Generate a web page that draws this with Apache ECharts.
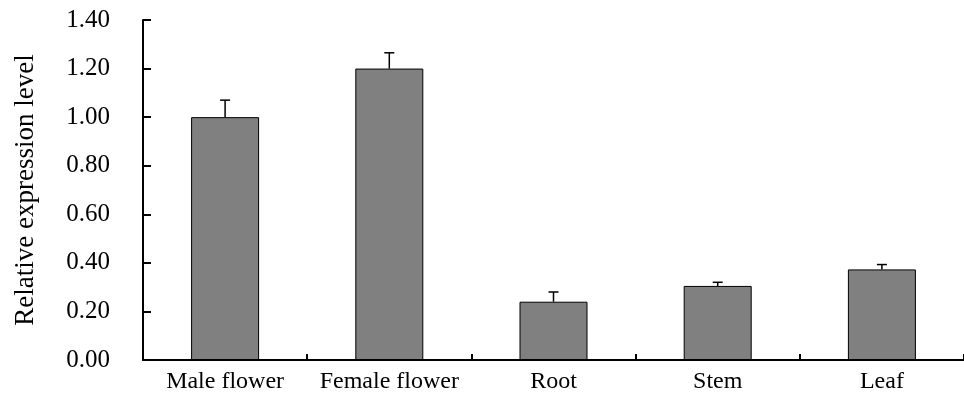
<!DOCTYPE html>
<html><head><meta charset="utf-8">
<script src="https://cdn.jsdelivr.net/npm/echarts@6/dist/echarts.min.js"></script>
<style>html,body{margin:0;padding:0;background:#fff}#c{width:964px;height:399px}</style>
</head><body><div id="c"></div>
<script>
var categories = ['Male flower', 'Female flower', 'Root', 'Stem', 'Leaf'];
var values = [1.00, 1.20, 0.24, 0.305, 0.373];
var errors = [0.07, 0.065, 0.04, 0.015, 0.02];
var yTicks = [0, 0.2, 0.4, 0.6, 0.8, 1.0, 1.2, 1.4];

var chart = echarts.init(document.getElementById('c'));
var font = 'Liberation Serif';
chart.setOption({
  animation: false,
  grid: { left: 143, top: 20, width: 825, bottom: 39 },
  xAxis: {
    type: 'category', data: categories,
    axisLine: { lineStyle: { color: '#000', width: 2 } },
    axisTick: { show: true, inside: true, length: 6, lineStyle: { color: '#000', width: 2 } },
    axisLabel: { color: '#000', fontFamily: font, fontSize: 24, margin: 10, interval: 0, hideOverlap: false }
  },
  yAxis: {
    type: 'value', min: yTicks[0], max: yTicks[yTicks.length - 1], interval: 0.2,
    name: 'Relative expression level', nameLocation: 'middle', nameGap: 104,
    nameTextStyle: { color: '#000', fontFamily: font, fontSize: 27 },
    axisLine: { show: true, lineStyle: { color: '#000', width: 2 } },
    axisTick: { show: true, inside: true, length: 8, lineStyle: { color: '#000', width: 2 } },
    axisLabel: { color: '#000', fontFamily: font, fontSize: 25, margin: 33,
      formatter: function (v) { return v.toFixed(2); } },
    splitLine: { show: false }
  },
  series: [
    { type: 'bar', data: values, barWidth: 68,
      itemStyle: { color: '#808080', borderColor: '#000', borderWidth: 1 } },
    { type: 'custom', z: 5,
      data: values.map(function (v, i) { return [i, v, v + errors[i]]; }),
      renderItem: function (params, api) {
        var p0 = api.coord([api.value(0), api.value(1)]);
        var p1 = api.coord([api.value(0), api.value(2)]);
        var style = { stroke: '#000', lineWidth: 1.5 };
        return { type: 'group', children: [
          { type: 'line', shape: { x1: p0[0], y1: p0[1], x2: p1[0], y2: p1[1] }, style: style },
          { type: 'line', shape: { x1: p1[0] - 5, y1: p1[1], x2: p1[0] + 5, y2: p1[1] }, style: style }
        ] };
      } }
  ]
});
</script></body></html>
